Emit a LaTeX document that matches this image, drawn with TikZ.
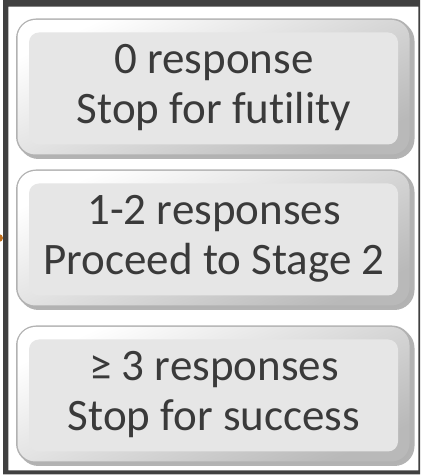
\documentclass[tikz,border=0pt]{standalone}
\usepackage{fontspec}
\setmainfont{Carlito}[Ligatures=NoCommon]
\usetikzlibrary{shadows,calc}
\definecolor{framegray}{HTML}{404040}
\definecolor{facegray}{HTML}{E6E6E6}
\definecolor{textgray}{HTML}{3A3A3A}
\definecolor{arrorange}{HTML}{C0701E}

\begin{document}
\begin{tikzpicture}[x=1pt,y=1pt]
		\tikzset{btn/.style={rectangle,rounded corners=20pt,minimum width=396pt,minimum height=138pt,
				fill=gray!60,drop shadow={shadow xshift=2.5pt,shadow yshift=-2.5pt,opacity=.6},
				path picture={
					\shade[rounded corners=18pt,top color=white,bottom color=gray!55,shading angle=25]
						($(path picture bounding box.south west)+(1.5pt,2pt)$) rectangle ($(path picture bounding box.north east)+(-2.5pt,-1.5pt)$);
					\fill[facegray,rounded corners=10pt]
						($(path picture bounding box.south west)+(13pt,12pt)$) rectangle ($(path picture bounding box.north east)+(-14pt,-14pt)$);},
				text=textgray,font=\fontsize{45}{50}\selectfont,align=center}};
		
		\useasboundingbox (0,0) rectangle (424,476);
		\clip (0,0) rectangle (424,476);
		\fill[framegray,even odd rule] (3,1.7) rectangle (420,477) (8.3,5.7) rectangle (418.3,469.3);
		\fill[arrorange] (-1,238) circle (4);
		
		\foreach \n/\y/\txt in {zero/388.5/{0 response\\Stop for futility},
			some/237.5/{1-2 responses\\Proceed to Stage 2},
			many/81.5/{≥ 3 responses\\Stop for success}}
		\node[btn] (\n) at (214,\y) {\txt};
		\end{tikzpicture}
\end{document}
